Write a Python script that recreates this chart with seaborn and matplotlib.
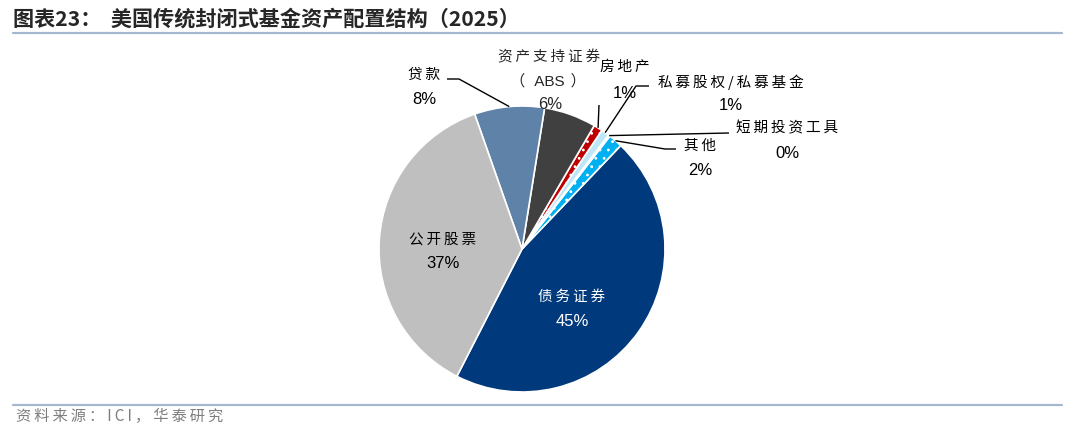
import numpy as np
import matplotlib
matplotlib.use("Agg")
import matplotlib.pyplot as plt
import seaborn as sns

# data (counter-clockwise from the lower-left edge of 债务证券)
names = ["债务证券", "其他", "短期投资工具", "私募股权/私募基金", "房地产",
         "资产支持证券\n（ABS）", "贷款", "公开股票"]
shares = [45.4, 1.6, 0.2, 0.9, 1.0, 5.9, 7.9, 37.1]
colors = ["#003a7d", "#00b0f0", "#dbeef9", "#bde6f7", "#c00000",
          "#404040", "#5f82a8", "#bfbfbf"]
hatches = [None, "..", None, None, "..", None, None, None]

sns.set_theme(style="white")
plt.rcParams["font.family"] = ["Noto Sans CJK SC", "DejaVu Sans"]
plt.rcParams["hatch.color"] = "white"
plt.rcParams["hatch.linewidth"] = 0.8

CJK = ["Noto Sans CJK SC", "DejaVu Sans"]
NUM = ["Liberation Sans", "DejaVu Sans"]
W, H = 1080, 440


def Y(y):
    # pixel row (from top) -> data y
    return H - y


def sp(s):
    return "\u2009".join(s)


fig = plt.figure(figsize=(10.8, 4.4), dpi=100)
ax = fig.add_axes([0, 0, 1, 1])

cx, cy, r = 522, Y(249), 143
wedges, _ = ax.pie(shares, colors=colors, startangle=-117.1, counterclock=True,
                   center=(cx, cy), radius=r,
                   wedgeprops=dict(edgecolor="white", linewidth=1.2))
for w, h in zip(wedges, hatches):
    if h:
        w.set_hatch(h)

ax.set_xlim(0, W)
ax.set_ylim(0, H)
ax.set_aspect("equal")
ax.axis("off")


def rim(i):
    t = np.deg2rad((wedges[i].theta1 + wedges[i].theta2) / 2)
    return cx + r * np.cos(t), cy + r * np.sin(t)


def leader(i, pts):
    x0, y0 = rim(i)
    xs = [x0] + [p[0] for p in pts]
    ys = [y0] + [Y(p[1]) for p in pts]
    ax.plot(xs, ys, color="black", lw=1.0, solid_capstyle="butt")


pct = [f"{v:.0f}%" for v in shares]


def label(i, x, y, py, color="black", name=None):
    name = name if name is not None else names[i]
    ax.text(x, Y(y), sp(name), ha="center", va="center", fontsize=10.5,
            family=CJK, color=color)
    ax.text(x, Y(py), pct[i], ha="center", va="center", fontsize=12,
            family=NUM, color=color)


# inner labels
label(0, 572, 297, 321, color="white")
label(7, 443, 240, 264)

# outer labels with leader lines
label(6, 424, 75, 99)
leader(6, [(459, 79), (447, 79)])

ax.text(549, Y(57), sp("资产支持证券"), ha="center", va="center",
        fontsize=10.5, family=CJK)
ax.text(548, Y(81), "（\u2009\u2009\u2009ABS\u2009\u2009）", ha="center",
        va="center", fontsize=11, family=["Liberation Sans", "Noto Sans CJK SC"])
ax.text(550, Y(104), pct[5], ha="center", va="center", fontsize=12,
        family=NUM)

label(4, 625, 67, 93)
leader(4, [(599, 105)])

label(3, 731, 82, 105)
leader(3, [(636, 86), (649, 86)])

label(2, 787, 128, 153)
leader(2, [(729, 133)])

label(1, 700, 146, 170)
leader(1, [(665, 149), (676, 149)])

# title, rules and source
ax.text(13, Y(19), "图表23：  美国传统封闭式基金资产配置结构（2025）",
        ha="left", va="center", fontsize=15.2, fontweight="bold", family=CJK)
ax.plot([13, 1062], [Y(33), Y(33)], color="#a6b8d0", lw=1.6)
ax.plot([13, 1062], [Y(405), Y(405)], color="#a6b8d0", lw=1.6)
ax.text(16, Y(416), sp("资料来源：ICI，华泰研究"), ha="left", va="center",
        fontsize=11, family=CJK, color="#7f7f7f")

fig.savefig("out.png", dpi=100)
